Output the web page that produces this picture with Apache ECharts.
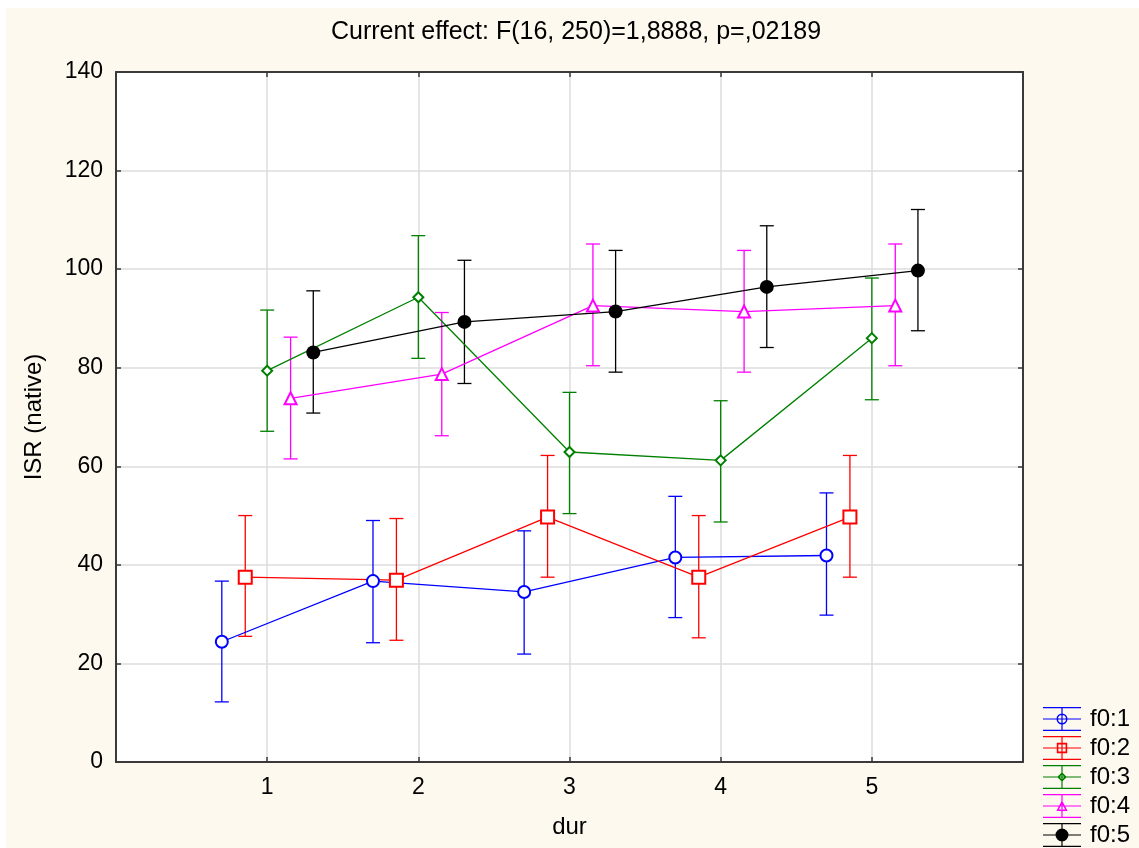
<!DOCTYPE html>
<html>
<head>
<meta charset="utf-8">
<script src="https://cdn.jsdelivr.net/npm/echarts@6/dist/echarts.min.js"></script>
<style>
  html, body { margin: 0; padding: 0; background: #fff; }
  #paper { position: absolute; left: 6px; top: 8px; width: 1133px; height: 840px; background: #fdf9ee; }
  #chart { position: absolute; left: 0; top: 0; width: 1139px; height: 848px; }
</style>
</head>
<body>
<div id="paper"></div>
<div id="chart"></div>
<script>
// x categories (dur) and legend groups (f0)
const durs = [1, 2, 3, 4, 5];
const groups = ['f0:1', 'f0:2', 'f0:3', 'f0:4', 'f0:5'];

// means per group
const meanF1 = [24.4, 36.7, 34.5, 41.5, 41.9];
const meanF2 = [37.5, 36.9, 49.7, 37.5, 49.7];
const meanF3 = [79.4, 94.3, 62.9, 61.2, 86.0];
const meanF4 = [73.8, 78.7, 92.6, 91.4, 92.6];
const meanF5 = [83.1, 89.3, 91.4, 96.4, 99.7];

// lower / upper ends of the error bars
const lowF1 = [12.2, 24.2, 21.9, 29.3, 29.8];
const highF1 = [36.7, 49.0, 46.9, 53.9, 54.6];
const lowF2 = [25.5, 24.7, 37.5, 25.2, 37.5];
const highF2 = [50.0, 49.4, 62.2, 50.0, 62.2];
const lowF3 = [67.1, 81.9, 50.4, 48.7, 73.5];
const highF3 = [91.7, 106.8, 75.0, 73.3, 98.2];
const lowF4 = [61.5, 66.2, 80.4, 79.1, 80.4];
const highF4 = [86.2, 91.2, 105.1, 103.8, 105.1];
const lowF5 = [70.8, 76.8, 79.1, 84.1, 87.5];
const highF5 = [95.6, 101.8, 103.8, 108.8, 112.1];

const yTicks = [0, 20, 40, 60, 80, 100, 120, 140];

const means = [meanF1, meanF2, meanF3, meanF4, meanF5];
const lows = [lowF1, lowF2, lowF3, lowF4, lowF5];
const highs = [highF1, highF2, highF3, highF4, highF5];

// horizontal dodge of each group around the dur position
const dodge = [-0.3, -0.145, 0, 0.155, 0.305];
const colors = ['#0000ff', '#ff0000', '#008000', '#ff00ff', '#000000'];
const symbols = ['emptyCircle', 'emptyRect', 'emptyDiamond', 'emptyTriangle', 'circle'];
const symbolSizes = [12, 13, 10, 12, 14];

// legend glyphs: caps + stem + marker (38 x 24 box)
const bars = 'M0 0H38V1.2H0Z M0 11.4H38V12.6H0Z M0 22.8H38V24H0Z M18.4 0H19.6V24H18.4Z ';
const legendIcons = [
  bars + 'M24.5 12A5.5 5.5 0 1 1 13.5 12A5.5 5.5 0 1 1 24.5 12Z M23 12A4 4 0 1 0 15 12A4 4 0 1 0 23 12Z',
  bars + 'M13.8 6.8H24.2V17.2H13.8Z M15.4 8.4V15.6H22.6V8.4Z',
  bars + 'M19 7.2L23.8 12L19 16.8L14.2 12Z M19 9.4L16.4 12L19 14.6L21.6 12Z',
  bars + 'M19 6.3L24.6 17L13.4 17Z M19 9.6L15.9 15.4L22.1 15.4Z',
  bars + 'M25.5 12A6.5 6.5 0 1 1 12.5 12A6.5 6.5 0 1 1 25.5 12Z'
];

const font = 'Liberation Sans, Arial, sans-serif';
const chart = echarts.init(document.getElementById('chart'));

const series = [];
groups.forEach(function (name, g) {
  const barData = durs.map(function (d, i) { return [d + dodge[g], lows[g][i], highs[g][i]]; });
  series.push({
    type: 'custom',
    name: name,
    data: barData,
    encode: { x: 0, y: [1, 2] },
    silent: true,
    renderItem: function (params, api) {
      const x = api.value(0);
      const lo = api.coord([x, api.value(1)]);
      const hi = api.coord([x, api.value(2)]);
      const w = 7;
      const st = { stroke: colors[g], lineWidth: 1.3 };
      return {
        type: 'group',
        children: [
          { type: 'line', shape: { x1: lo[0], y1: lo[1], x2: hi[0], y2: hi[1] }, style: st },
          { type: 'line', shape: { x1: lo[0] - w, y1: lo[1], x2: lo[0] + w, y2: lo[1] }, style: st },
          { type: 'line', shape: { x1: hi[0] - w, y1: hi[1], x2: hi[0] + w, y2: hi[1] }, style: st }
        ]
      };
    }
  });
  series.push({
    type: 'line',
    name: name,
    data: durs.map(function (d, i) { return [d + dodge[g], means[g][i]]; }),
    symbol: symbols[g],
    symbolSize: symbolSizes[g],
    showAllSymbol: true,
    lineStyle: { color: colors[g], width: 1.3 },
    itemStyle: { color: colors[g], borderWidth: 2.5 },
    emphasis: { disabled: true }
  });
});

chart.setOption({
  animation: false,
  textStyle: { fontFamily: font },
  title: {
    text: 'Current effect: F(16, 250)=1,8888, p=,02189',
    left: 331,
    top: 20,
    padding: 0,
    textStyle: { fontFamily: font, fontSize: 25, fontWeight: 'normal', color: '#000' }
  },
  legend: {
    orient: 'vertical',
    left: 1043,
    top: 707,
    padding: 0,
    itemWidth: 38,
    itemHeight: 24,
    itemGap: 5,
    selectedMode: false,
    itemStyle: { borderWidth: 0 },
    textStyle: { fontFamily: font, fontSize: 24, color: '#000', padding: [0, 0, 0, 4] },
    data: groups.map(function (name, g) {
      return { name: name, icon: 'path://' + legendIcons[g], itemStyle: { color: colors[g], borderWidth: 0 } };
    })
  },
  grid: {
    left: 116, right: 116, top: 72, bottom: 86,
    show: true, backgroundColor: '#ffffff', borderWidth: 0
  },
  xAxis: [
    {
      type: 'value', min: 0, max: 6, interval: 1,
      name: 'dur', nameLocation: 'middle', nameGap: 53,
      nameTextStyle: { fontFamily: font, fontSize: 24, color: '#000' },
      axisLine: { onZero: false, lineStyle: { color: '#3a3a3a', width: 2 } },
      axisTick: { inside: true, length: 5, lineStyle: { color: '#3a3a3a', width: 1.5 } },
      axisLabel: {
        margin: 14, fontFamily: font, fontSize: 23, color: '#000',
        formatter: function (v) { return durs.indexOf(v) >= 0 ? String(v) : ''; }
      },
      splitLine: { show: true, lineStyle: { color: '#dcdcdc', width: 1.5 } }
    },
    {
      type: 'value', min: 0, max: 6, interval: 1, position: 'top',
      axisLine: { onZero: false, lineStyle: { color: '#3a3a3a', width: 2 } },
      axisTick: { inside: true, length: 5, lineStyle: { color: '#3a3a3a', width: 1.5 } },
      axisLabel: { show: false },
      splitLine: { show: false }
    }
  ],
  yAxis: [
    {
      type: 'value', min: yTicks[0], max: yTicks[yTicks.length - 1], interval: 20,
      name: 'ISR (native)', nameLocation: 'middle', nameGap: 70, nameRotate: 90,
      nameTextStyle: { fontFamily: font, fontSize: 24, color: '#000' },
      axisLine: { onZero: false, lineStyle: { color: '#3a3a3a', width: 2 } },
      axisTick: { inside: true, length: 5, lineStyle: { color: '#3a3a3a', width: 1.5 } },
      axisLabel: { margin: 13, fontFamily: font, fontSize: 23, color: '#000' },
      splitLine: { show: true, lineStyle: { color: '#dcdcdc', width: 1.5 } }
    },
    {
      type: 'value', min: yTicks[0], max: yTicks[yTicks.length - 1], interval: 20, position: 'right',
      axisLine: { show: true, onZero: false, lineStyle: { color: '#3a3a3a', width: 2 } },
      axisTick: { show: true, inside: true, length: 5, lineStyle: { color: '#3a3a3a', width: 1.5 } },
      axisLabel: { show: false },
      splitLine: { show: false }
    }
  ],
  series: series
});
</script>
</body>
</html>
